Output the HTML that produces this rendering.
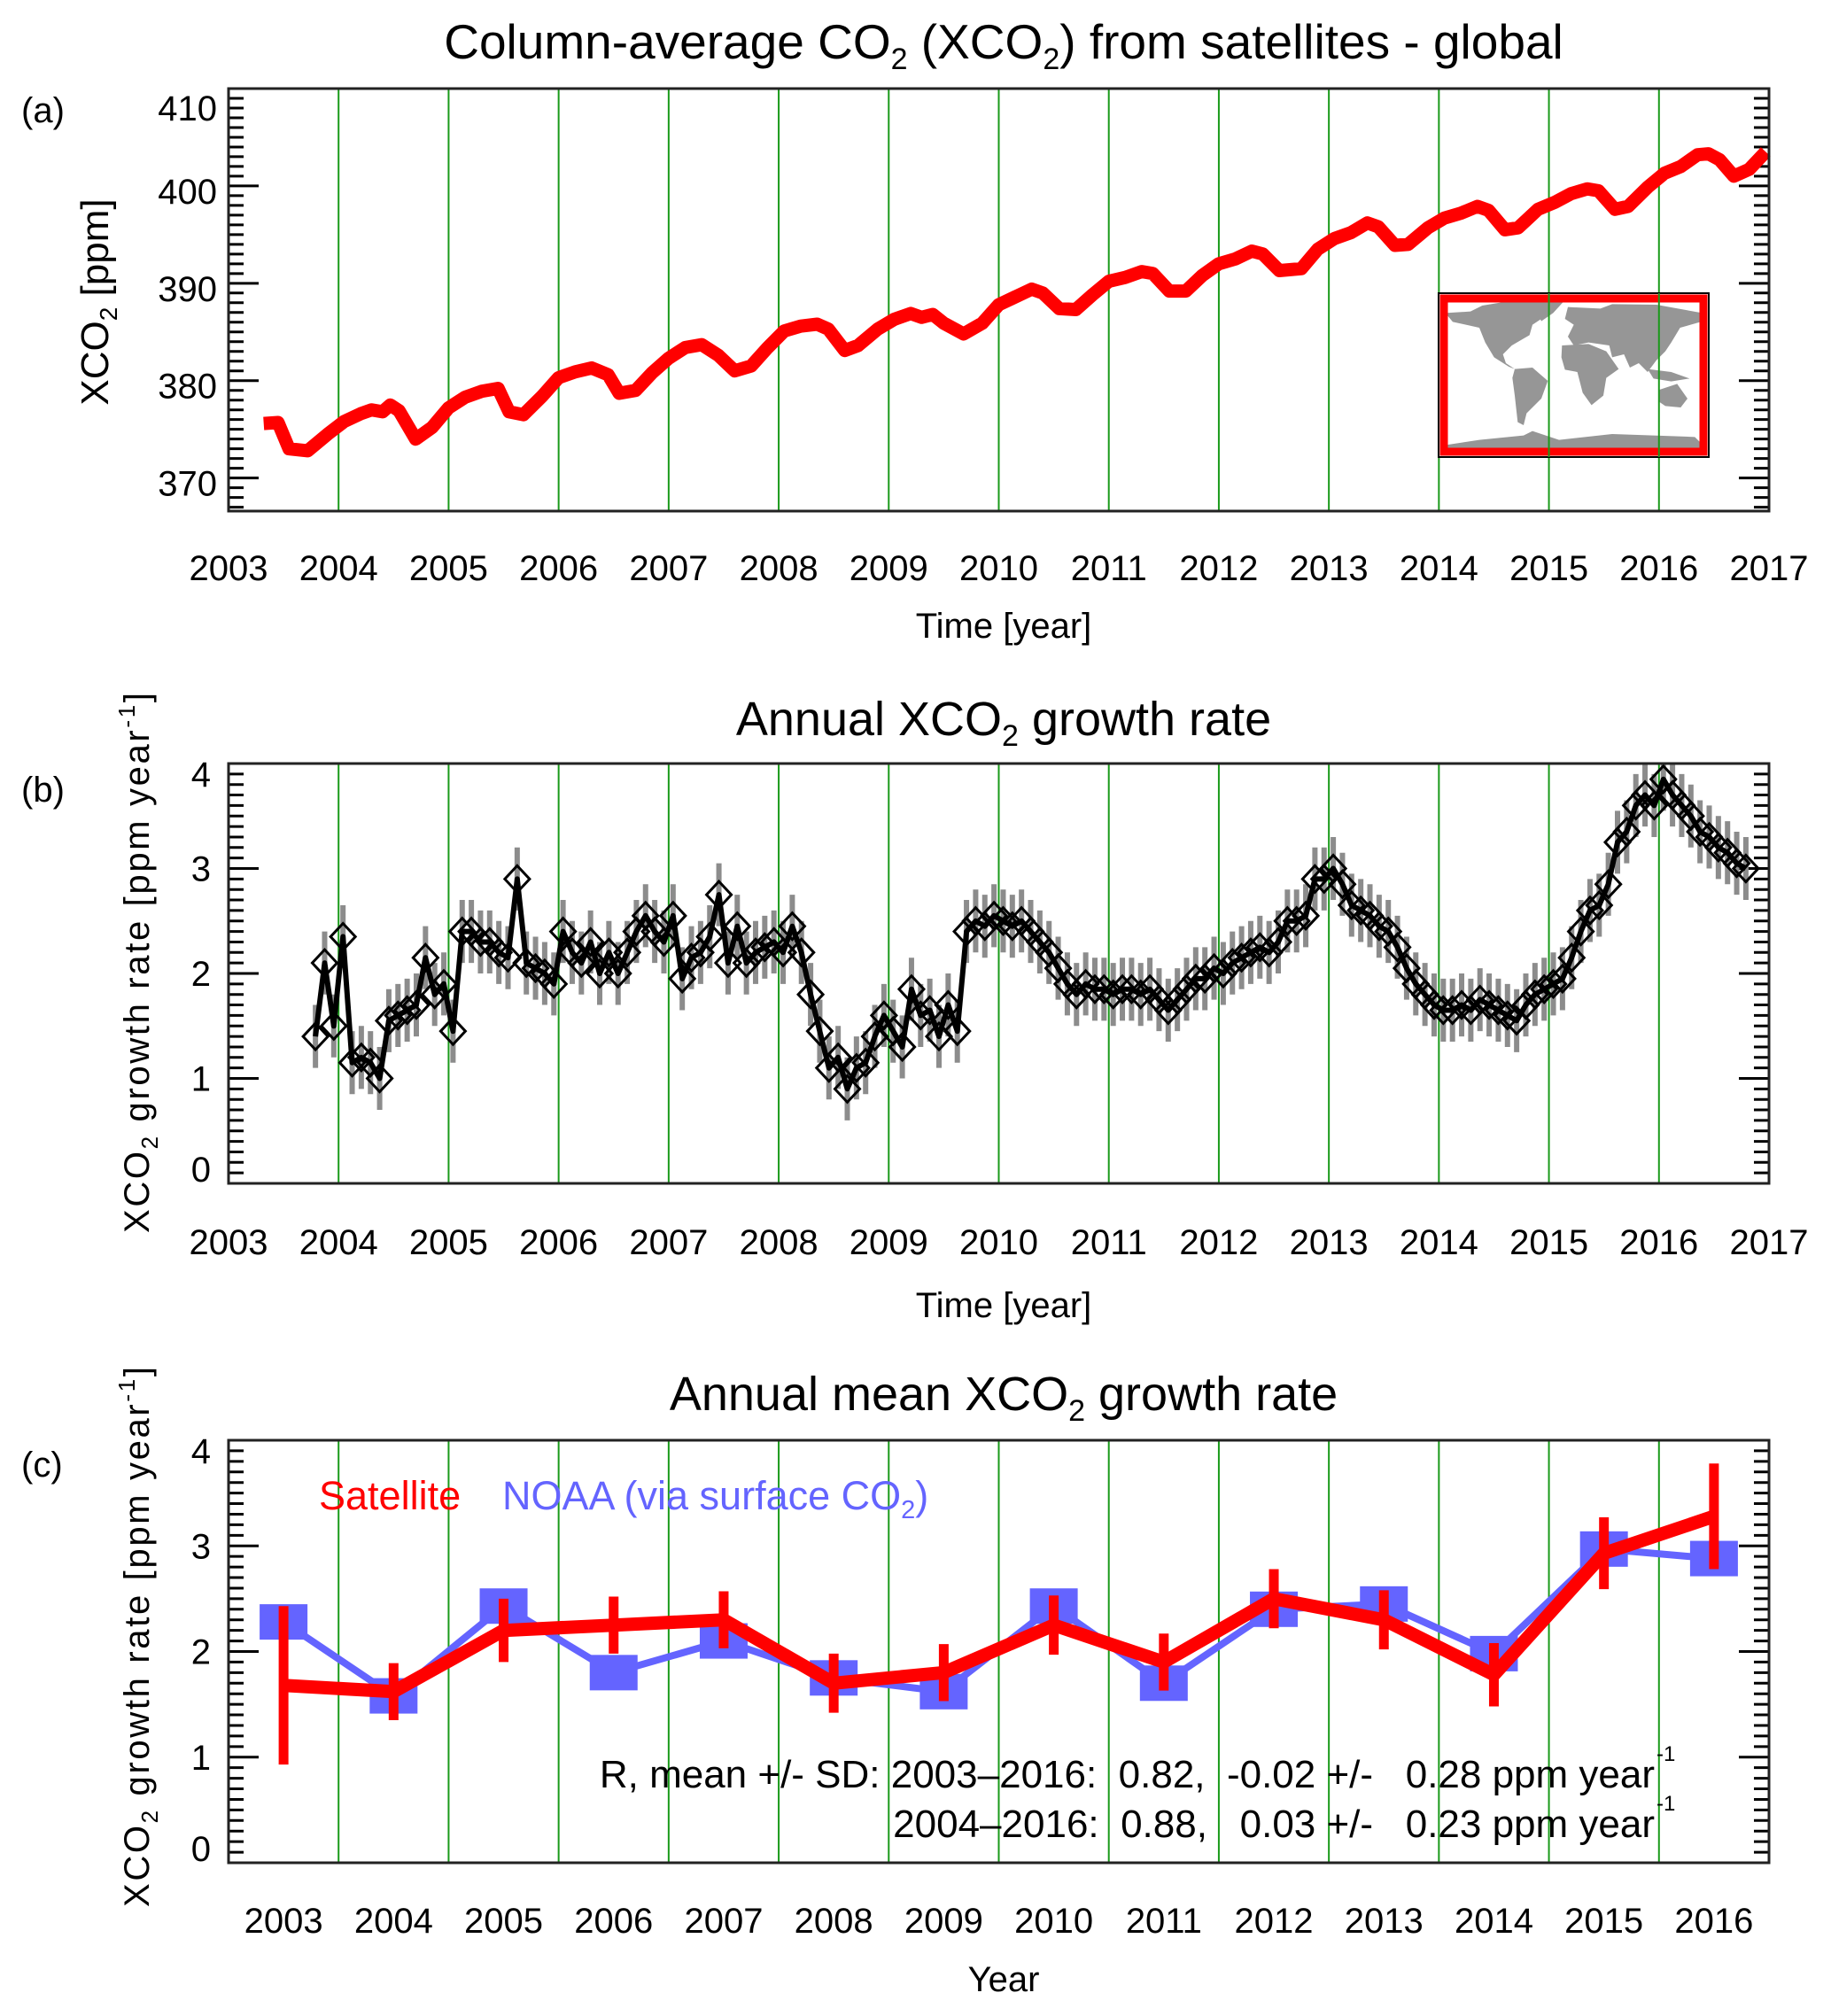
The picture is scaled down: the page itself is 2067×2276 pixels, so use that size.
<!DOCTYPE html>
<html><head><meta charset="utf-8"><style>
html,body{margin:0;padding:0;background:#fff}
svg{display:block;font-family:"Liberation Sans",Arial,sans-serif}
</style></head><body>
<svg id="fig" xmlns="http://www.w3.org/2000/svg" width="2067" height="2276" viewBox="0 0 2067 2276">
<rect width="2067" height="2276" fill="#fff"/>
</svg>
<script>
// ---- Panel (a) data ----
const aTimes=[2003.32,2003.45,2003.55,2003.72,2003.9,2004.05,2004.2,2004.3,2004.4,2004.47,2004.55,2004.7,2004.85,2005.0,2005.15,2005.3,2005.45,2005.55,2005.68,2005.85,2006.0,2006.15,2006.3,2006.45,2006.55,2006.7,2006.85,2007.0,2007.15,2007.3,2007.45,2007.6,2007.75,2007.9,2008.05,2008.2,2008.35,2008.45,2008.6,2008.72,2008.9,2009.05,2009.2,2009.3,2009.4,2009.5,2009.68,2009.85,2010.0,2010.15,2010.3,2010.4,2010.55,2010.7,2010.85,2011.0,2011.15,2011.3,2011.4,2011.55,2011.7,2011.85,2012.0,2012.15,2012.3,2012.4,2012.55,2012.75,2012.9,2013.05,2013.2,2013.35,2013.45,2013.6,2013.72,2013.9,2014.05,2014.2,2014.35,2014.45,2014.6,2014.72,2014.9,2015.05,2015.2,2015.35,2015.45,2015.6,2015.72,2015.9,2016.05,2016.2,2016.35,2016.45,2016.55,2016.68,2016.82,2016.97];
const aVals=[375.6,375.7,373.0,372.8,374.5,375.8,376.6,377.0,376.8,377.5,376.9,374.0,375.2,377.2,378.3,378.9,379.2,376.8,376.5,378.4,380.3,380.9,381.3,380.6,378.7,379.0,380.8,382.3,383.4,383.7,382.6,381.0,381.5,383.4,385.1,385.6,385.8,385.3,383.1,383.6,385.3,386.3,386.9,386.5,386.8,385.9,384.8,385.9,387.8,388.6,389.4,389.0,387.4,387.3,388.8,390.2,390.6,391.2,391.0,389.2,389.2,390.8,392.0,392.5,393.3,393.0,391.3,391.5,393.5,394.6,395.2,396.2,395.8,393.9,394.0,395.7,396.7,397.2,397.9,397.5,395.5,395.7,397.6,398.3,399.2,399.7,399.5,397.6,397.9,399.9,401.3,402.0,403.2,403.3,402.7,401.0,401.7,403.5];
// ---- Panel (b) data ----
const bStart=2003.79;
const bStep=1/12;
const bVals=[1.4,2.1,1.5,2.35,1.15,1.2,1.15,1.0,1.55,1.6,1.65,1.7,2.15,1.8,1.9,1.45,2.4,2.4,2.3,2.3,2.2,2.15,2.9,2.1,2.05,2.0,1.9,2.4,2.2,2.1,2.3,2.0,2.2,2.0,2.2,2.4,2.55,2.4,2.3,2.55,1.95,2.15,2.2,2.35,2.75,2.1,2.45,2.1,2.2,2.25,2.3,2.2,2.45,2.2,1.8,1.45,1.1,1.2,0.9,1.1,1.15,1.4,1.6,1.45,1.3,1.85,1.6,1.65,1.4,1.7,1.45,2.4,2.5,2.45,2.55,2.5,2.45,2.5,2.4,2.3,2.2,2.05,1.9,1.8,1.9,1.85,1.85,1.8,1.85,1.85,1.8,1.85,1.75,1.65,1.75,1.85,1.95,1.95,2.05,2.0,2.1,2.15,2.2,2.25,2.2,2.3,2.5,2.5,2.55,2.9,2.9,3.0,2.85,2.65,2.6,2.55,2.45,2.4,2.25,2.05,1.9,1.8,1.7,1.65,1.65,1.7,1.65,1.75,1.7,1.65,1.6,1.55,1.7,1.8,1.85,1.9,1.95,2.15,2.4,2.6,2.65,2.85,3.25,3.35,3.6,3.7,3.6,3.85,3.7,3.6,3.5,3.35,3.3,3.2,3.15,3.05,3.0];
const bErr=0.3;
// ---- Panel (c) data ----
const cYears=[2003,2004,2005,2006,2007,2008,2009,2010,2011,2012,2013,2014,2015,2016];
const cSat=[1.68,1.62,2.2,2.25,2.3,1.7,1.8,2.25,1.9,2.5,2.3,1.78,2.93,3.28];
const cSatErr=[0.75,0.27,0.3,0.27,0.27,0.28,0.27,0.28,0.27,0.28,0.28,0.3,0.34,0.5];
const cNoaa=[2.28,1.58,2.43,1.8,2.1,1.75,1.62,2.43,1.7,2.4,2.45,1.98,2.97,2.88];
// tick labels
const yearTicks=[2003,2004,2005,2006,2007,2008,2009,2010,2011,2012,2013,2014,2015,2016,2017];
const aYTicks=[370,380,390,400,410];
const bYTicks=[0,1,2,3,4];

const NS='http://www.w3.org/2000/svg';
const svg=document.getElementById('fig');
function el(tag,attrs,parent){const e=document.createElementNS(NS,tag);for(const k in attrs)e.setAttribute(k,attrs[k]);(parent||svg).appendChild(e);return e;}
const L=258,R=1997;
function xYear(t){return L+(t-2003)*(R-L)/14;}
function makeY(top,bot,v0,v1){return v=>bot-(v-v0)*(bot-top)/(v1-v0);}

function frame(top,bot,yf,minorStep,majorStep,vmin,vmax,g){
  for(let yr=2004;yr<=2016;yr++){
    const gl=el('line',{x1:xYear(yr),x2:xYear(yr),y1:top,y2:bot,stroke:'#1a9a1a','stroke-width':2},g);
    
    
  }
  for(let v=Math.ceil(vmin/minorStep)*minorStep;v<=vmax+1e-9;v+=minorStep){
    const y=yf(v);
    const isMaj=Math.abs(v/majorStep-Math.round(v/majorStep))<1e-6;
    const len=isMaj?34:17;
    el('line',{x1:L,x2:L+len,y1:y,y2:y,stroke:'#000','stroke-width':3},g);
    el('line',{x1:R,x2:R-len,y1:y,y2:y,stroke:'#000','stroke-width':3},g);
  }
}
function border(top,bot,g){
  el('rect',{x:L,y:top,width:R-L,height:bot-top,fill:'none',stroke:'#222','stroke-width':3},g);
}
function text(x,y,s,attrs,parent){const t=el('text',Object.assign({x:x,y:y,'font-size':40,fill:'#000'},attrs||{}),parent);t.textContent=s;return t;}

// ===== Panel A =====
const gA=el('g',{});


const aTop=100,aBot=577;
const yA=makeY(aTop,aBot,366.6,410);
frame(aTop,aBot,yA,1,10,366.6,410,gA);
const inset=el('g',{},gA);


el('rect',{x:1624,y:331,width:305,height:185,fill:'#fff',stroke:'#000','stroke-width':2},inset);
const mg=el('g',{transform:'translate(1620,320) scale(0.3333)'},inset);
const polys=[
'35,100 120,95 160,75 250,60 330,58 400,62 360,120 330,140 320,175 260,210 230,240 240,270 270,290 250,282 200,250 170,200 150,150 60,130',
'270,290 330,285 382,330 360,390 310,440 300,480 280,470 270,380 262,320',
'330,58 435,62 400,100 360,128',
'450,80 560,85 600,70 750,72 905,100 900,130 830,150 800,200 780,230 750,260 720,300 690,270 660,285 640,240 600,250 590,210 520,200 470,210 450,180 470,140 440,120',
'430,210 520,205 580,230 622,290 580,320 570,380 530,412 500,370 482,300 440,292 428,250',
'760,360 820,340 855,390 832,420 780,415 758,400',
'720,290 800,300 862,322 800,332 740,322',
'32,548 150,530 300,515 330,500 420,530 600,510 880,520 905,545 905,570 32,570'];
polys.forEach(p=>el('polygon',{points:p,fill:'#969696'},mg));
el('rect',{x:1630,y:337,width:293,height:173,fill:'none',stroke:'#f00','stroke-width':9},inset);
[2015,2016].forEach(yr=>el('line',{x1:xYear(yr),x2:xYear(yr),y1:331,y2:516,stroke:'#1a9a1a','stroke-width':2},inset));
const aPath=aTimes.map((t,i)=>(i?'L':'M')+xYear(t).toFixed(1)+','+yA(aVals[i]).toFixed(1)).join(' ');
const aLine=el('path',{d:aPath,fill:'none',stroke:'#f00','stroke-width':15,'stroke-linejoin':'round'},gA);


border(aTop,aBot,gA);
aYTicks.forEach(v=>{const off=v===410?22:6;const t=text(245,yA(v)+off+14,String(v),{'text-anchor':'end'},gA);

});
yearTicks.forEach(yr=>{const t=text(xYear(yr),655,String(yr),{'text-anchor':'middle'},gA);

});

// ===== Panel B =====
const gB=el('g',{});


const bTop=862,bBot=1336;
const yB=makeY(bTop,bBot,0,4);
frame(bTop,bBot,yB,0.1,1,0,4,gB);
const clipB=el('clipPath',{id:'clipB'},gB);
el('rect',{x:L,y:bTop,width:R-L,height:bBot-bTop},clipB);
const gBd=el('g',{'clip-path':'url(#clipB)'},gB);
bVals.forEach((v,i)=>{const x=xYear(bStart+i*bStep);
const e=el('line',{x1:x,x2:x,y1:yB(v-bErr),y2:yB(v+bErr),stroke:'#8c8c8c','stroke-width':6},gBd);

});
const bPath=bVals.map((v,i)=>(i?'L':'M')+xYear(bStart+i*bStep).toFixed(1)+','+yB(v).toFixed(1)).join(' ');
const bLine=el('path',{d:bPath,fill:'none',stroke:'#000','stroke-width':6,'stroke-linejoin':'round'},gBd);


bVals.forEach((v,i)=>{const x=xYear(bStart+i*bStep),y=yB(v);
const d=el('polygon',{points:`${x},${y-15} ${x+14},${y} ${x},${y+15} ${x-14},${y}`,fill:'none',stroke:'#000','stroke-width':3},gBd);

});
border(bTop,bBot,gB);
bYTicks.forEach(v=>{const off=v===4?12:(v===0?-16:0);const t=text(238,yB(v)+off+14,String(v),{'text-anchor':'end'},gB);

});
yearTicks.forEach(yr=>{const t=text(xYear(yr),1416,String(yr),{'text-anchor':'middle'},gB);

});

// ===== Panel C =====
const gC=el('g',{});


const cTop=1626,cBot=2103;
const yC=makeY(cTop,cBot,0,4);
frame(cTop,cBot,yC,0.1,1,0,4,gC);
const xC=yr=>xYear(yr+0.5);
const nPath=cNoaa.map((v,i)=>(i?'L':'M')+xC(cYears[i]).toFixed(1)+','+yC(v).toFixed(1)).join(' ');
const nLine=el('path',{d:nPath,fill:'none',stroke:'#6464ff','stroke-width':8},gC);


cNoaa.forEach((v,i)=>{const r=el('rect',{x:xC(cYears[i])-27,y:yC(v)-20,width:54,height:40,fill:'#6464ff'},gC);

});
const sPath=cSat.map((v,i)=>(i?'L':'M')+xC(cYears[i]).toFixed(1)+','+yC(v).toFixed(1)).join(' ');
const sLine=el('path',{d:sPath,fill:'none',stroke:'#f00','stroke-width':15,'stroke-linejoin':'round'},gC);


cSat.forEach((v,i)=>{const x=xC(cYears[i]);
const e=el('line',{x1:x,x2:x,y1:yC(v-cSatErr[i]),y2:yC(v+cSatErr[i]),stroke:'#f00','stroke-width':11},gC);

});
border(cTop,cBot,gC);
bYTicks.forEach(v=>{const off=v===4?12:(v===0?-16:0);const t=text(238,yC(v)+off+14,String(v),{'text-anchor':'end'},gC);

});
cYears.forEach(yr=>{const t=text(xC(yr),2182,String(yr),{'text-anchor':'middle'},gC);

});
</script>
<svg style="position:absolute;left:0;top:0" width="2067" height="2276" xmlns="http://www.w3.org/2000/svg" font-family="Liberation Sans, Arial, sans-serif">
<text x="1133" y="66" font-size="55" text-anchor="middle">Column-average CO<tspan font-size="34" dy="12">2</tspan><tspan dy="-12"> (XCO</tspan><tspan font-size="34" dy="12">2</tspan><tspan dy="-12">) from satellites -  global</tspan></text>
<text x="24" y="138" font-size="40">(a)</text>
<text transform="translate(122,341) rotate(-90)" font-size="44" text-anchor="middle">XCO<tspan font-size="28" dy="10">2</tspan><tspan dy="-10"> [ppm]</tspan></text>
<text x="1133" y="720" font-size="40" text-anchor="middle">Time [year]</text>
<text x="1133" y="830" font-size="54" text-anchor="middle">Annual XCO<tspan font-size="34" dy="12">2</tspan><tspan dy="-12"> growth rate</tspan></text>
<text x="24" y="905" font-size="40">(b)</text>
<text transform="translate(168,1087) rotate(-90)" font-size="40" text-anchor="middle" textLength="610" lengthAdjust="spacing">XCO<tspan font-size="26" dy="10">2</tspan><tspan dy="-10"> growth rate [ppm year</tspan><tspan font-size="26" dy="-16">-1</tspan><tspan dy="16">]</tspan></text>
<text x="1133" y="1487" font-size="40" text-anchor="middle">Time [year]</text>
<text x="1133" y="1592" font-size="54" text-anchor="middle">Annual mean XCO<tspan font-size="34" dy="12">2</tspan><tspan dy="-12"> growth rate</tspan></text>
<text x="24" y="1667" font-size="40">(c)</text>
<text transform="translate(168,1848) rotate(-90)" font-size="40" text-anchor="middle" textLength="610" lengthAdjust="spacing">XCO<tspan font-size="26" dy="10">2</tspan><tspan dy="-10"> growth rate [ppm year</tspan><tspan font-size="26" dy="-16">-1</tspan><tspan dy="16">]</tspan></text>
<text x="1133" y="2248" font-size="40" text-anchor="middle">Year</text>
<text x="360" y="1704" font-size="45" fill="#ff0000">Satellite</text>
<text x="567" y="1704" font-size="45" fill="#6464ff">NOAA (via surface CO<tspan font-size="29" dy="10">2</tspan><tspan dy="-10">)</tspan></text>
<text x="1868" y="2018" font-size="44" text-anchor="end" style="white-space:pre" xml:space="preserve">R, mean +/- SD: 2003–2016:  0.82,  -0.02 +/-   0.28 ppm year</text>
<text x="1870" y="1988" font-size="24">-1</text>
<text x="1868" y="2074" font-size="44" text-anchor="end" style="white-space:pre" xml:space="preserve">2004–2016:  0.88,   0.03 +/-   0.23 ppm year</text>
<text x="1870" y="2044" font-size="24">-1</text>
</svg>
</body></html>
